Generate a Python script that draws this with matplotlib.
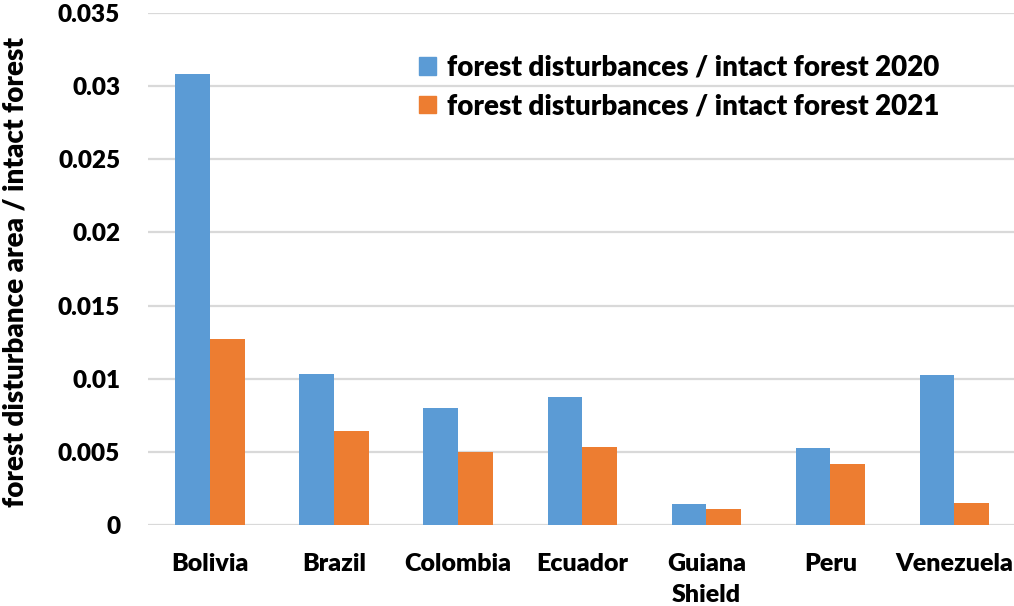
import matplotlib

matplotlib.use("Agg")
import matplotlib.pyplot as plt
import numpy as np
from matplotlib.patches import Patch

regions = ["Bolivia", "Brazil", "Colombia", "Ecuador", "Guiana\nShield", "Peru", "Venezuela"]
ratio_2020 = [0.03085, 0.01033, 0.0080, 0.00878, 0.00144, 0.00527, 0.01026]
ratio_2021 = [0.01272, 0.00641, 0.00497, 0.00536, 0.00112, 0.00415, 0.0015]
series_labels = [
    "forest disturbances / intact forest 2020",
    "forest disturbances / intact forest 2021",
]
y_ticks = [0, 0.005, 0.01, 0.015, 0.02, 0.025, 0.03, 0.035]
y_tick_labels = ["0", "0.005", "0.01", "0.015", "0.02", "0.025", "0.03", "0.035"]

BLUE = "#5b9bd5"
ORANGE = "#ed7d31"
GRID = "#d9d9d9"
WEIGHT = "heavy"

plt.rcParams["font.family"] = ["Lato", "DejaVu Sans"]

fig = plt.figure(figsize=(10.14, 6.06), dpi=100)
ax = fig.add_axes([148 / 1014, 81 / 606, 866 / 1014, 512 / 606])

x = np.arange(len(regions))
width = 0.28
ax.bar(x - width / 2, ratio_2020, width, color=BLUE, zorder=3)
ax.bar(x + width / 2, ratio_2021, width, color=ORANGE, zorder=3)

ax.set_xlim(-0.5, 6.48)
ax.set_ylim(0, 0.035)
ax.set_yticks(y_ticks)
ax.set_yticklabels(y_tick_labels, fontsize=17.5, fontweight=WEIGHT)
ax.set_xticks(x)
ax.set_xticklabels(regions, fontsize=18, fontweight=WEIGHT, linespacing=1.5)
ax.tick_params(axis="both", length=0)
ax.tick_params(axis="y", pad=20)
ax.tick_params(axis="x", pad=20)
ax.grid(axis="y", color=GRID, linewidth=1.6, zorder=0)
ax.set_axisbelow(True)
for spine in ax.spines.values():
    spine.set_visible(False)

ax.set_ylabel(
    "forest disturbance area / intact forest",
    fontsize=20,
    fontweight=WEIGHT,
)
ax.yaxis.set_label_coords(-0.1375, 0.495)

handles = [Patch(color=BLUE), Patch(color=ORANGE)]
ax.legend(
    handles,
    series_labels,
    loc="upper left",
    bbox_to_anchor=(0.3, 0.94),
    frameon=False,
    prop={"size": 20, "weight": WEIGHT},
    handlelength=0.6,
    handleheight=0.6,
    handletextpad=0.4,
    labelspacing=0.45,
    borderaxespad=0.0,
)

fig.savefig("out.png", dpi=100, facecolor="white")
